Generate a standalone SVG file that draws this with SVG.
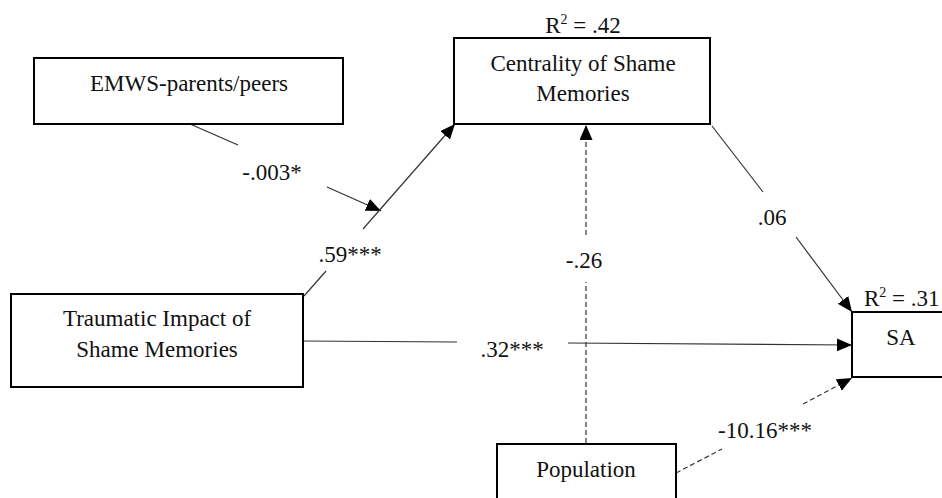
<svg xmlns="http://www.w3.org/2000/svg" width="942" height="498" viewBox="0 0 942 498">
<style>
.box{fill:#fff;stroke:#000;stroke-width:2}
text{font-family:'Times New Roman','Liberation Serif','Tinos','Noto Serif','DejaVu Serif',serif;font-size:23px;fill:#111;text-anchor:middle}
.sup{font-size:14px}
.c{stroke:#333;stroke-width:1.2;fill:none}
.d{stroke-dasharray:5,3}
</style>
<defs>
<marker id="ah" markerUnits="userSpaceOnUse" markerWidth="16" markerHeight="14" refX="15" refY="6.5" orient="auto">
<path d="M0,0 L15,6.5 L0,13 z" fill="#000"/>
</marker>
</defs>
<rect width="942" height="498" fill="#fff"/>
<g id="connectors">
<line class="c" x1="190" y1="124" x2="238" y2="145"/>
<line class="c" x1="327" y1="187" x2="381" y2="211" marker-end="url(#ah)"/>
<line class="c" x1="304" y1="296" x2="326" y2="271"/>
<line class="c" x1="363" y1="229" x2="455" y2="124" marker-end="url(#ah)"/>
<line class="c" x1="712" y1="126" x2="763" y2="192"/>
<line class="c" x1="796" y1="237" x2="852" y2="312" marker-end="url(#ah)"/>
<line class="c" x1="300" y1="341" x2="457" y2="342"/>
<line class="c" x1="568" y1="343" x2="852" y2="345" marker-end="url(#ah)"/>
<line class="c d" x1="586" y1="443" x2="586" y2="282"/>
<line class="c d" x1="586" y1="235" x2="586" y2="125" marker-end="url(#ah)"/>
<line class="c d" x1="676" y1="473" x2="722" y2="449"/>
<line class="c d" x1="803" y1="404" x2="852" y2="378" marker-end="url(#ah)"/>
<text x="272" y="180">-.003*</text>
<text x="350" y="262">.59***</text>
<text x="772" y="225">.06</text>
<text x="512" y="357">.32***</text>
<text x="584" y="268">-.26</text>
<text x="765" y="438">-10.16***</text>
</g>
<g id="emws">
<rect class="box" x="34" y="58" width="309" height="66"/>
<text x="189" y="91">EMWS-parents/peers</text>
</g>
<g id="centrality">
<text x="583" y="33">R<tspan class="sup" dy="-9">2</tspan><tspan dy="9"> = .42</tspan></text>
<rect class="box" x="454" y="38" width="256" height="86"/>
<text x="583" y="71">Centrality of Shame</text>
<text x="583" y="101">Memories</text>
</g>
<g id="traumatic">
<rect class="box" x="11" y="294" width="292" height="93"/>
<text x="157" y="326">Traumatic Impact of</text>
<text x="157" y="357">Shame Memories</text>
</g>
<g id="sa">
<text x="864" y="306" style="text-anchor:start">R<tspan class="sup" dy="-9">2</tspan><tspan dy="9"> = .31</tspan></text>
<rect class="box" x="852" y="312" width="100" height="65"/>
<text x="901" y="345">SA</text>
</g>
<g id="population">
<rect class="box" x="497" y="444" width="179" height="60"/>
<text x="586" y="477">Population</text>
</g>
</svg>
